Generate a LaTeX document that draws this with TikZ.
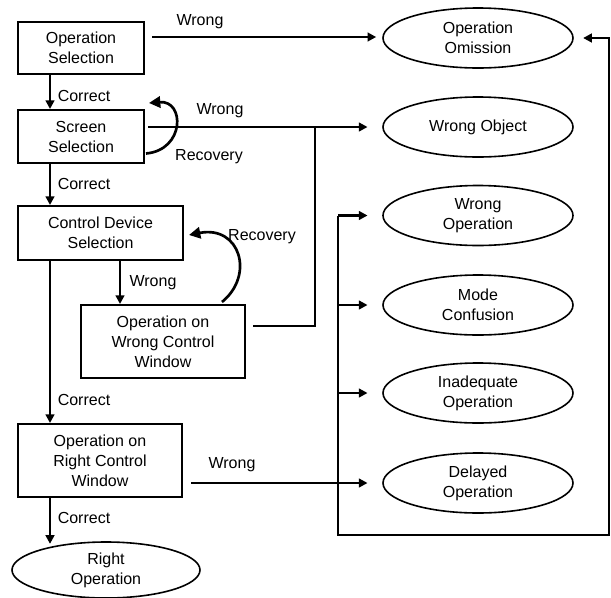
\documentclass[tikz,border=0pt]{standalone}
\usepackage{fontspec}
\setmainfont{Liberation Sans}
\usetikzlibrary{arrows.meta,shapes.geometric,calc}
\begin{document}
\begin{tikzpicture}[x=0.75pt,y=-0.75pt,
  font=\fontsize{12}{15}\selectfont,
  box/.style={draw,line width=1.5pt,rectangle,align=center,inner sep=0pt},
  oval/.style={draw,line width=1.2pt,ellipse,align=center,inner sep=0pt,minimum width=142.5pt,minimum height=45pt},
  arr/.style={line width=1.9pt,-{Triangle[length=6.5pt,width=6.5pt]}},
  recarr/.style={line width=2pt,-{Triangle[length=8.5pt,width=8.5pt]}},
  conn/.style={line width=1.9pt},
  lbl/.style={inner sep=0pt}]
\useasboundingbox (0,0) rectangle (611,597);
% boxes
\node[box,minimum width=94.5pt,minimum height=39pt] (os) at (81,48) {Operation\\Selection};
\node[box,minimum width=94.5pt,minimum height=39.75pt] (ss) at (81,136.5) {Screen\\Selection};
\node[box,minimum width=123.75pt,minimum height=40.5pt] (cd) at (100.5,233) {Control Device\\Selection};
\node[box,minimum width=123pt,minimum height=54.75pt] (ow) at (163,341.5) {Operation on\\Wrong Control\\Window};
\node[box,minimum width=123pt,minimum height=54.75pt] (or) at (100,460.5) {Operation on\\Right Control\\Window};
\node[oval,minimum width=141pt,minimum height=42pt] (ro) at (106,570) {Right\\Operation};
% outcome ellipses
\node[oval] (oo) at (478,38) {Operation\\Omission};
\node[oval] (wo) at (478,127) {Wrong Object};
\node[oval] (wp) at (478,215.5) {Wrong\\Operation};
\node[oval] (mc) at (478,305) {Mode\\Confusion};
\node[oval] (io) at (478,393) {Inadequate\\Operation};
\node[oval] (dop) at (478,483) {Delayed\\Operation};
% helper coordinates
\coordinate (xl) at (50,0);
\coordinate (xw) at (120,0);
\coordinate (xj) at (315,0);
\coordinate (xb) at (338,0);
\coordinate (xr) at (609,0);
\coordinate (yb) at (0,535);
\coordinate (s1) at (152,37);
\coordinate (s2) at (148,127);
\coordinate (s3) at (253,326);
\coordinate (s4) at (191,483);
% correct path
\draw[arr] (os.south -| xl) -- (ss.north -| xl);
\draw[arr] (ss.south -| xl) -- (cd.north -| xl);
\draw[arr] (cd.south -| xl) -- (or.north -| xl);
\draw[arr,shorten >=-2pt] (or.south -| xl) -- (ro.north -| xl);
% wrong paths
\draw[arr] (cd.south -| xw) -- (ow.north -| xw);
\draw[arr,shorten >=4.5pt] (s1) -- (s1 -| oo.west);
\draw[arr,shorten >=11pt] (s2) -- (wo.west);
\draw[conn] (s3) -| (xj |- wo.west);
\draw[arr,shorten >=11pt] (s4) -- (dop.west);
\draw[arr,shorten >=11pt] (xb |- wp.west) -- (wp.west);
\draw[arr,shorten >=11pt] (xb |- mc.west) -- (mc.west);
\draw[arr,shorten >=11pt] (xb |- io.west) -- (io.west);
\draw[arr,shorten >=7pt] (xb |- wp.west) -- (xb |- yb) -- (xr |- yb) -- (xr |- oo.east) -- (oo.east);
% recovery loops
\draw[recarr] ($(ss.east)+(1,17)$) .. controls (185,150) and (185,100) .. ($(ss.north east)+(4,-6)$);
\draw[recarr] ($(ow.north)+(59,-2)$) .. controls (255,275) and (240,225) .. ($(cd.east)+(5,2)$);
% labels
\node[lbl] (w1) at (200,22) {Wrong};
\node[lbl] (w2) at (220,111) {Wrong};
\node[lbl] (w3) at (153,283) {Wrong};
\node[lbl] (w4) at (232,465) {Wrong};
\node[lbl] (c1) at (84,96) {Correct};
\node[lbl] (c2) at (84,184) {Correct};
\node[lbl] (c3) at (84,400) {Correct};
\node[lbl] (c4) at (84,518) {Correct};
\node[lbl] (r1) at (209,157) {Recovery};
\node[lbl] (r2) at (262,237) {Recovery};
\end{tikzpicture}
\end{document}
